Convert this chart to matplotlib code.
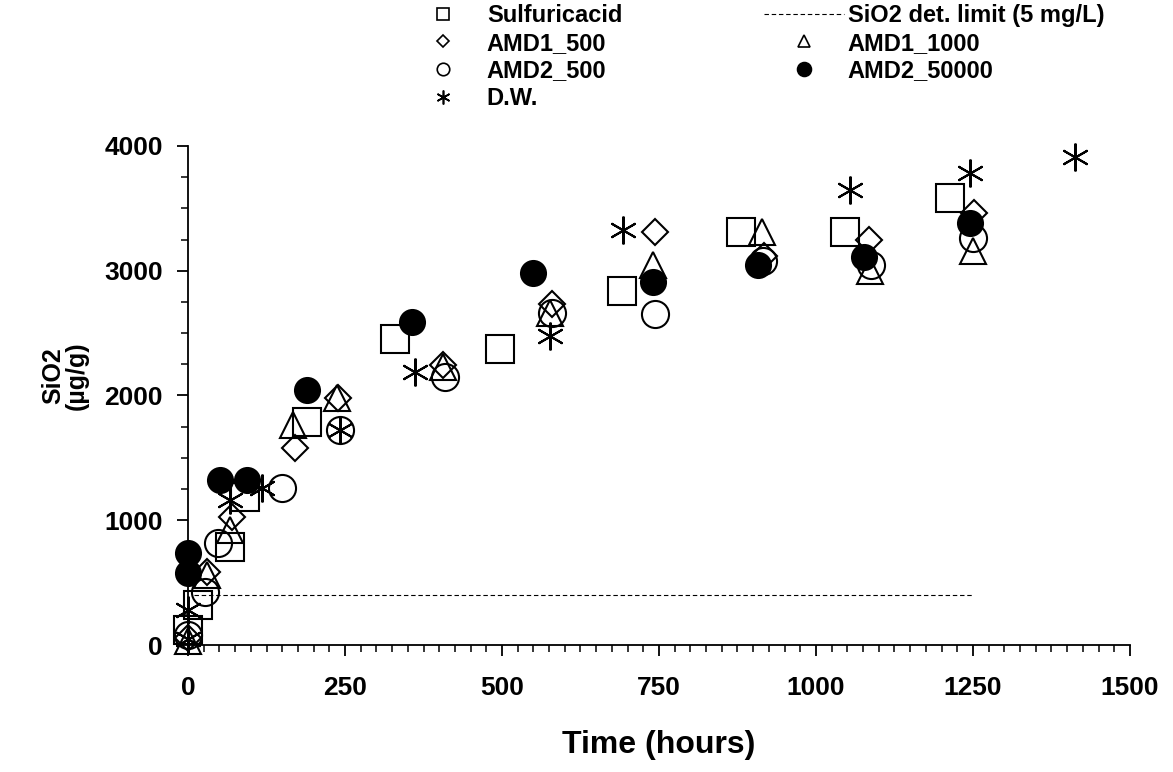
import matplotlib
matplotlib.use('Agg')
import matplotlib.pyplot as plt
from matplotlib.lines import Line2D
from matplotlib.ticker import MultipleLocator

plt.rcParams['font.family'] = ['Liberation Sans', 'DejaVu Sans']
plt.rcParams['font.weight'] = 'bold'

# time (hours) and SiO2 (ug/g) for each leach solution
sulf_t = [0, 16, 67, 91, 189, 330, 497, 691, 880, 1046, 1213]
sulf_v = [120, 320, 786, 1186, 1788, 2455, 2375, 2840, 3310, 3310, 3580]

amd1_500_t = [0, 30, 70, 170, 239, 406, 580, 744, 918, 1085, 1252]
amd1_500_v = [60, 585, 1026, 1579, 1980, 2245, 2730, 3310, 3120, 3250, 3463]

amd2_500_t = [0, 27, 48, 150, 242, 409, 580, 744, 916, 1087, 1250]
amd2_500_v = [80, 425, 818, 1258, 1723, 2148, 2661, 2650, 3075, 3050, 3262]

amd1_1000_t = [0, 30, 67, 167, 237, 406, 576, 741, 914, 1086, 1250]
amd1_1000_v = [30, 560, 922, 1763, 1980, 2228, 2661, 3046, 3310, 3000, 3160]

amd2_50000_t = [0, 0, 51, 94, 189, 357, 549, 741, 908, 1076, 1246]
amd2_50000_v = [737, 577, 1323, 1323, 2044, 2589, 2985, 2910, 3050, 3110, 3385]

dw_t = [0, 0, 67, 118, 242, 361, 576, 693, 1054, 1245, 1412]
dw_v = [50, 280, 1162, 1258, 1723, 2188, 2475, 3327, 3647, 3784, 3912]

det_t = [10, 1250]
det_v = [400, 400]

fig = plt.figure(figsize=(11.73, 7.72), dpi=100)
ax = fig.add_axes([0.1603, 0.1645, 0.803, 0.6464])

star = (6, 2, 0)
kw = dict(linestyle='none', color='black', mew=1.5, clip_on=False)
ax.plot(det_t, det_v, color='black', lw=0.8, linestyle=(0, (4, 2.5)))
ax.plot(sulf_t, sulf_v, marker='s', ms=20, mfc='none', **kw)
ax.plot(amd1_500_t, amd1_500_v, marker='D', ms=13.5, mfc='none', **kw)
ax.plot(amd2_500_t, amd2_500_v, marker='o', ms=19.5, mfc='none', **kw)
ax.plot(amd1_1000_t, amd1_1000_v, marker='^', ms=19, mfc='none', **kw)
ax.plot(dw_t, dw_v, marker=star, ms=20, **kw)
ax.plot(amd2_50000_t, amd2_50000_v, marker='o', ms=18, mfc='black', **kw)

ax.set_xlim(0, 1500)
ax.set_ylim(0, 4000)
ax.xaxis.set_major_locator(MultipleLocator(250))
ax.xaxis.set_minor_locator(MultipleLocator(25))
ax.yaxis.set_major_locator(MultipleLocator(1000))
ax.yaxis.set_minor_locator(MultipleLocator(250))
ax.spines['top'].set_visible(False)
ax.spines['right'].set_visible(False)
for s in ['left', 'bottom']:
    ax.spines[s].set_linewidth(1.3)
ax.tick_params(which='major', direction='out', length=8, width=1.3, labelsize=19, pad=10)
ax.tick_params(axis='x', which='major', pad=14)
ax.tick_params(which='minor', direction='out', length=5, width=1.1)
for lab in ax.get_xticklabels() + ax.get_yticklabels():
    lab.set_fontweight('bold')

ax.set_xlabel('Time (hours)', fontsize=23, fontweight='bold', labelpad=22)
ax.set_ylabel('SiO2\n(µg/g)', fontsize=18, fontweight='bold', labelpad=12, linespacing=1.0)
ax.yaxis.set_label_coords(-0.105, 0.54)

lkw = dict(linestyle='none', color='black', mew=1.2)
handles = [
    Line2D([], [], marker='s', ms=9, mfc='none', **lkw),
    Line2D([], [], marker='D', ms=6.5, mfc='none', **lkw),
    Line2D([], [], marker='o', ms=9, mfc='none', **lkw),
    Line2D([], [], marker=star, ms=10, **lkw),
    Line2D([], [], color='black', lw=0.8, linestyle=(0, (4, 2.5))),
    Line2D([], [], marker='^', ms=9, mfc='none', **lkw),
    Line2D([], [], marker='o', ms=10, mfc='black', **lkw),
]
labels = ['Sulfuricacid', 'AMD1_500', 'AMD2_500', 'D.W.',
          'SiO2 det. limit (5 mg/L)', 'AMD1_1000', 'AMD2_50000']
fig.legend(handles, labels, ncol=2, loc='upper left', bbox_to_anchor=(403 / 1173, 1 - 4 / 772),
           frameon=False, prop={'size': 17, 'weight': 'bold'},
           handlelength=3.4, handletextpad=0.15, columnspacing=6.0,
           labelspacing=0.2, borderaxespad=0, borderpad=0)

fig.savefig('out.png', dpi=100)
